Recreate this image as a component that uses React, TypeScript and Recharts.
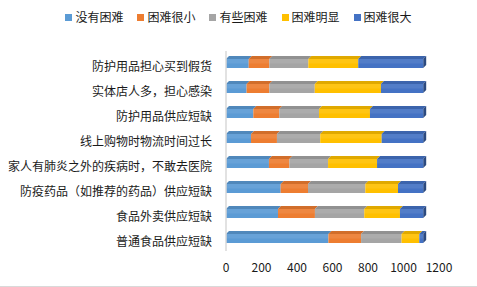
import { BarChart, Bar, XAxis, YAxis, CartesianGrid } from "recharts";

const categories = [
  "防护用品担心买到假货",
  "实体店人多，担心感染",
  "防护用品供应短缺",
  "线上购物时物流时间过长",
  "家人有肺炎之外的疾病时，不敢去医院",
  "防疫药品（如推荐的药品）供应短缺",
  "食品外卖供应短缺",
  "普通食品供应短缺",
];

const seriesNames = ["没有困难", "困难很小", "有些困难", "困难明显", "困难很大"];
const noDifficulty = [128, 116, 154, 141, 242, 308, 293, 577];
const littleDifficulty = [116, 128, 146, 146, 115, 154, 208, 184];
const someDifficulty = [220, 256, 224, 244, 218, 323, 278, 228];
const obviousDifficulty = [281, 373, 287, 346, 276, 184, 201, 100];
const greatDifficulty = [366, 238, 300, 234, 260, 142, 131, 22];
const xTicks = [0, 200, 400, 600, 800, 1000, 1200];

const COLORS = ["#5B9BD5", "#ED7D31", "#A5A5A5", "#FFC000", "#4472C4"];
const KEYS = ["s0", "s1", "s2", "s3", "s4"];

const data = categories.map((name, i) => ({
  name,
  s0: noDifficulty[i],
  s1: littleDifficulty[i],
  s2: someDifficulty[i],
  s3: obviousDifficulty[i],
  s4: greatDifficulty[i],
}));

function shade(hex: string, amt: number) {
  const n = parseInt(hex.slice(1), 16);
  const f = (c: number) => Math.max(0, Math.min(255, Math.round(c + (amt < 0 ? c * amt : (255 - c) * amt))));
  const r = f((n >> 16) & 255);
  const g = f((n >> 8) & 255);
  const b = f(n & 255);
  return `rgb(${r},${g},${b})`;
}

// bar with a little 3D top face (and right side face on the last segment)
function make3DShape(color: string, last: boolean) {
  return (props: any) => {
    const { x, y, width, height } = props;
    if (!width || width <= 0) return <g />;
    const dx = 3;
    const dy = 3;
    return (
      <g>
        <polygon
          points={`${x},${y} ${x + dx},${y - dy} ${x + width + dx},${y - dy} ${x + width},${y}`}
          fill={shade(color, -0.12)}
        />
        {last && (
          <polygon
            points={`${x + width},${y} ${x + width + dx},${y - dy} ${x + width + dx},${y + height - dy} ${x + width},${y + height}`}
            fill={shade(color, -0.35)}
          />
        )}
        <rect x={x} y={y} width={width} height={height} fill={color} />
        <rect x={x} y={y} width={width} height={height / 2} fill="#ffffff" opacity={0.08} />
      </g>
    );
  };
}

const gridGen = ({ xAxis }: any) => {
  if (!xAxis || typeof xAxis.scale !== "function") return [];
  return xTicks.map((t) => xAxis.scale(t) + 6);
};

export default function App() {
  return (
    <div
      style={{
        position: "absolute",
        left: 0,
        top: 0,
        width: 477,
        height: 286,
        borderBottom: "1px solid #d9d9d9",
        background: "#fff",
        fontFamily: "'Noto Sans CJK SC', sans-serif",
      }}
    >
      <div
        style={{
          position: "absolute",
          top: 9,
          left: 0,
          width: 477,
          display: "flex",
          justifyContent: "center",
          gap: 14,
          fontSize: 12,
          color: "#1a1a1a",
          lineHeight: "16px",
        }}
      >
        {seriesNames.map((s, i) => (
          <div key={s} style={{ display: "flex", alignItems: "center" }}>
            <div style={{ width: 7, height: 7, background: COLORS[i], marginRight: 3 }} />
            <span>{s}</span>
          </div>
        ))}
      </div>
      <BarChart
        width={477}
        height={287}
        data={data}
        layout="vertical"
        margin={{ top: 51, right: 38, left: 0, bottom: 6 }}
        barSize={9}
      >
        <CartesianGrid
          horizontal={false}
          stroke="#d9d9d9"
          strokeWidth={1.5}
          verticalCoordinatesGenerator={gridGen}
        />
        <XAxis
          type="number"
          domain={[0, 1200]}
          ticks={xTicks}
          axisLine={false}
          tickLine={false}
          tickSize={0}
          tickMargin={12}
          height={30}
          tick={{ fontSize: 12, fill: "#1a1a1a", fontFamily: "'Noto Sans CJK SC', sans-serif" }}
        />
        <YAxis
          type="category"
          dataKey="name"
          width={226}
          axisLine={{ stroke: "#d9d9d9", strokeWidth: 1.5 }}
          tickLine={false}
          tickSize={0}
          tickMargin={14}
          interval={0}
          tick={{ fontSize: 12, fill: "#1a1a1a", dy: 3, fontFamily: "'Noto Sans CJK SC', sans-serif" }}
        />
        {KEYS.map((k, i) => (
          <Bar
            key={k}
            dataKey={k}
            name={seriesNames[i]}
            stackId="a"
            fill={COLORS[i]}
            isAnimationActive={false}
            shape={make3DShape(COLORS[i], i === KEYS.length - 1)}
          />
        ))}
      </BarChart>
    </div>
  );
}
